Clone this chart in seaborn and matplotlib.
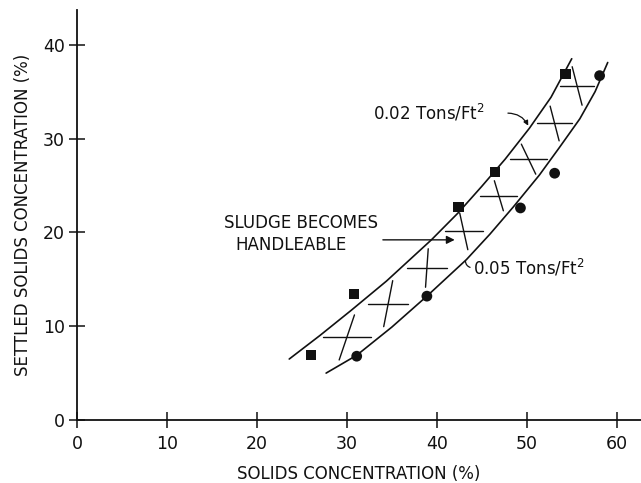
import matplotlib
matplotlib.use("Agg")
import matplotlib.pyplot as plt
import pandas as pd
import seaborn as sns

# Measured points, 0.02 Tons/Ft^2 loading (squares)
light_x = [26.0, 30.8, 42.4, 46.5, 54.3]
light_y = [6.9, 13.4, 22.7, 26.4, 36.9]
# Measured points, 0.05 Tons/Ft^2 loading (circles)
heavy_x = [31.1, 38.9, 49.3, 53.1, 58.1]
heavy_y = [6.8, 13.2, 22.6, 26.3, 36.7]

# Drawn trend curves bounding the band
upper_x = [23.6, 27.0, 30.5, 34.4, 39.4, 42.4, 45.0, 47.6, 50.3, 52.7, 55.0]
upper_y = [6.5, 9.0, 11.7, 14.8, 19.2, 22.1, 24.9, 27.8, 31.1, 34.4, 38.5]
lower_x = [27.7, 31.1, 35.0, 38.9, 43.3, 45.9, 48.5, 51.4, 53.6, 55.9, 57.6, 59.0]
lower_y = [5.0, 6.9, 9.9, 13.2, 17.1, 19.8, 22.7, 26.1, 29.0, 32.1, 35.0, 38.1]

# Cross-hatch strokes inside the band: centre, half width, lean and half height
hatch_x = [30.0, 34.6, 38.9, 43.0, 46.9, 50.2, 53.1, 55.6]
hatch_y = [8.8, 12.4, 16.2, 20.1, 23.9, 27.8, 31.6, 35.6]
hatch_w = [2.65, 2.2, 2.25, 2.1, 2.05, 2.05, 1.95, 1.85]
hatch_lean = [0.85, 0.5, 0.15, -0.45, -0.5, -0.8, -0.5, -0.55]
hatch_h = [2.4, 2.45, 2.05, 1.95, 1.6, 1.6, 1.85, 2.05]

x_ticks = [0, 10, 20, 30, 40, 50, 60]
y_ticks = [0, 10, 20, 30, 40]

sns.set_style("ticks")
plt.rcParams["font.family"] = ["DejaVu Sans"]
plt.rcParams["mathtext.fontset"] = "dejavusans"

fig = plt.figure(figsize=(6.41, 4.83), dpi=100)
ax = fig.add_axes([0.120, 0.1304, 0.88, 0.849])

ink = "#111111"

pts_light = pd.DataFrame({"x": light_x, "y": light_y})
pts_heavy = pd.DataFrame({"x": heavy_x, "y": heavy_y})
sns.scatterplot(data=pts_light, x="x", y="y", marker="s", s=55, color=ink,
                edgecolor="none", ax=ax, zorder=4)
sns.scatterplot(data=pts_heavy, x="x", y="y", marker="o", s=60, color=ink,
                edgecolor="none", ax=ax, zorder=4)

sns.lineplot(x=upper_x, y=upper_y, sort=False, estimator=None, color=ink,
             lw=1.2, ax=ax)
sns.lineplot(x=lower_x, y=lower_y, sort=False, estimator=None, color=ink,
             lw=1.2, ax=ax)

for cx, cy, w, lean, h in zip(hatch_x, hatch_y, hatch_w, hatch_lean, hatch_h):
    ax.plot([cx - w, cx + w], [cy, cy], color=ink, lw=1.0)
    ax.plot([cx - lean, cx + lean], [cy - h, cy + h], color=ink, lw=1.0)

txt = dict(color=ink, fontsize=12)
ax.text(32.9, 32.7, "0.02 Tons/Ft$^2$", ha="left", va="center", **txt)
ax.annotate("", xy=(50.3, 31.1), xytext=(47.6, 32.7),
            arrowprops=dict(arrowstyle="-|>", color=ink, lw=0.9,
                            mutation_scale=7,
                            connectionstyle="arc3,rad=-0.35"))
ax.text(44.0, 16.2, "0.05 Tons/Ft$^2$", ha="left", va="center", **txt)
ax.annotate("", xy=(43.2, 17.2), xytext=(44.0, 16.2),
            arrowprops=dict(arrowstyle="-", color=ink, lw=0.9,
                            connectionstyle="arc3,rad=-0.5"))

ax.text(16.3, 21.0, "SLUDGE BECOMES", ha="left", va="center", **txt)
ax.text(17.6, 18.6, "HANDLEABLE", ha="left", va="center", **txt)
ax.annotate("", xy=(42.3, 19.2), xytext=(33.7, 19.2),
            arrowprops=dict(arrowstyle="-|>", color=ink, lw=1.0,
                            mutation_scale=12))

ax.set_xlim(0, 62.7)
ax.set_ylim(0, 43.7)
ax.set_xticks(x_ticks)
ax.set_yticks(y_ticks)
ax.set_xticklabels([str(v) for v in x_ticks])
ax.set_yticklabels([str(v) for v in y_ticks])
ax.tick_params(axis="both", direction="inout", length=11, width=1.1,
               colors=ink, labelsize=12.5)
ax.tick_params(axis="y", pad=3)
ax.tick_params(axis="x", pad=5)

sns.despine(ax=ax)
for side in ("left", "bottom"):
    ax.spines[side].set_linewidth(1.3)
    ax.spines[side].set_color(ink)

ax.set_xlabel("SOLIDS CONCENTRATION (%)", fontsize=12, color=ink, labelpad=9)
ax.set_ylabel("SETTLED SOLIDS CONCENTRATION (%)", fontsize=12, color=ink,
              labelpad=8)

fig.savefig("out.png", dpi=100)
